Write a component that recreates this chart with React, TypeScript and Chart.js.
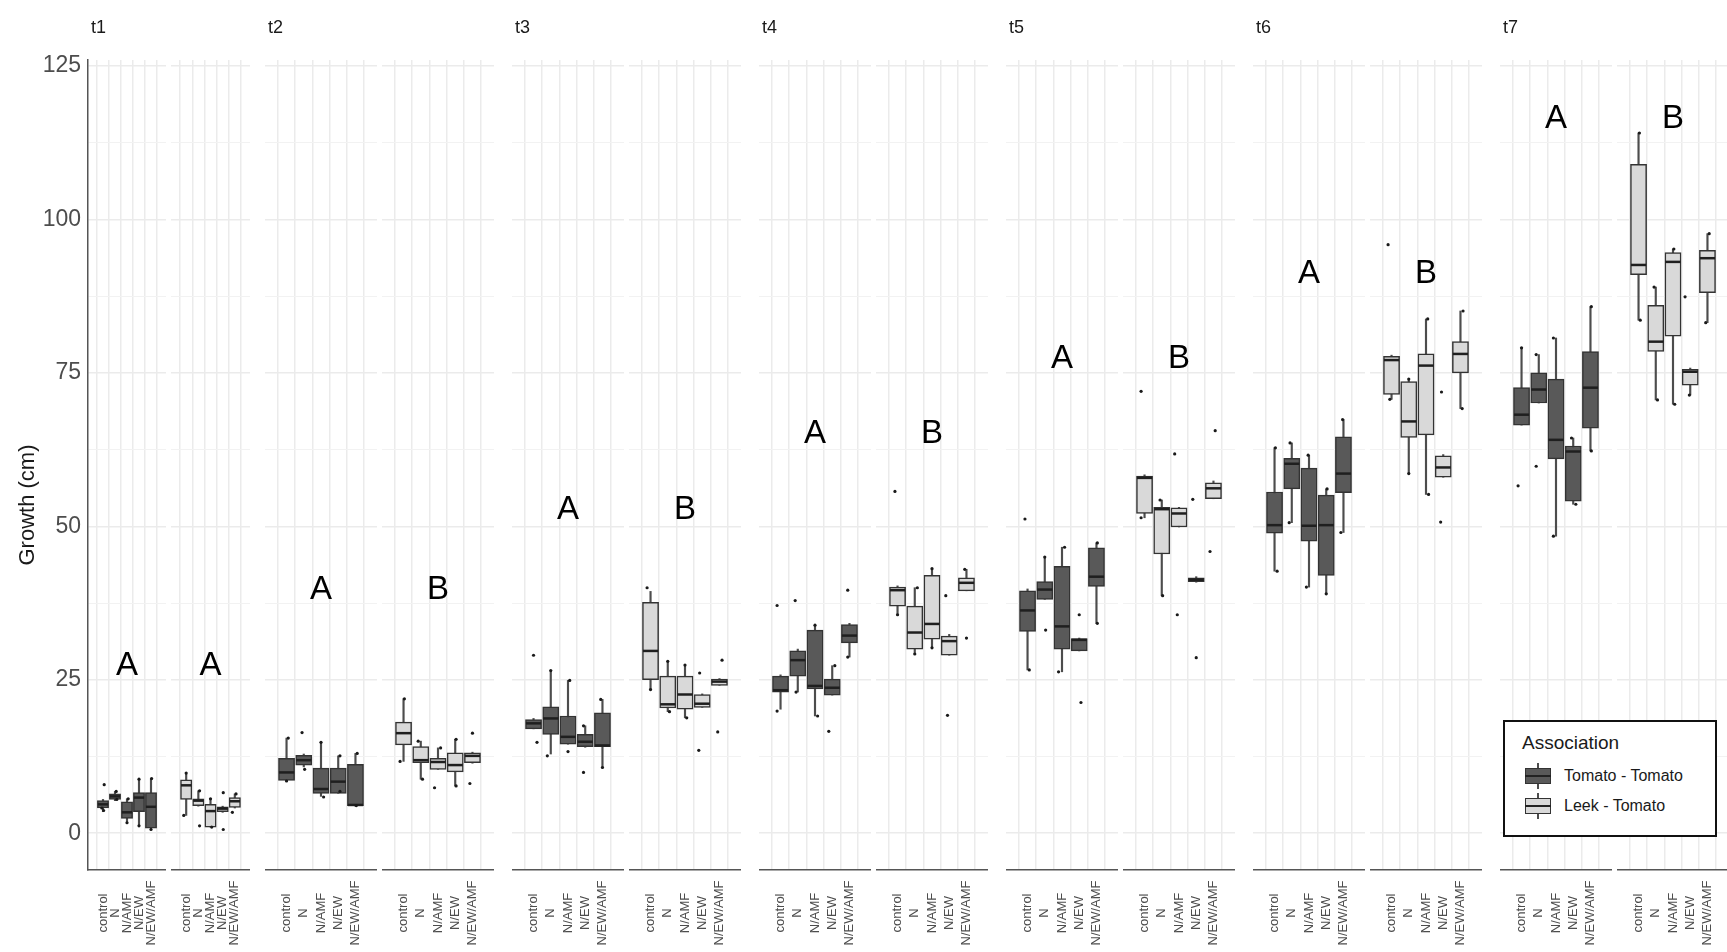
import React, { useEffect, useRef } from 'react';
import { Chart, registerables } from 'chart.js';

Chart.register(...registerables);

// ---------------- data ----------------
const timepoints = ['t1', 't2', 't3', 't4', 't5', 't6', 't7'];
const associations = ['Tomato - Tomato', 'Leek - Tomato'];
const treatments = ['control', 'N', 'N/AMF', 'N/EW', 'N/EW/AMF'];
const yTicks = [0, 25, 50, 75, 100, 125];
const yMinorTicks = [12.5, 37.5, 62.5, 87.5, 112.5];

// rows: t1 TT, t1 LT, t2 TT, t2 LT, ... t7 TT, t7 LT ; columns: treatments
const whiskerLow = [
  [3.5, 5.3, 1.7, 1.2, 0.6], [2.9, 4.4, 1.0, 3.4, 4.1],
  [8.4, 10.8, 6.0, 6.5, 4.4], [11.7, 8.8, 10.4, 7.7, 11.4],
  [17.0, 12.9, 14.5, 14.0, 10.7], [23.4, 19.8, 18.8, 20.5, 24.1],
  [20.2, 23.0, 19.1, 22.5, 28.7], [35.6, 29.2, 30.2, 29.0, 39.5],
  [26.6, 38.1, 26.3, 29.7, 34.2], [51.4, 38.7, 49.9, 40.9, 54.5],
  [42.7, 50.6, 40.1, 39.0, 49.0], [70.7, 58.6, 55.2, 58.0, 69.2],
  [66.5, 70.1, 48.4, 53.6, 62.3], [83.6, 70.6, 69.9, 71.4, 83.2],
];
const lowerQuartile = [
  [4.1, 5.5, 2.4, 3.5, 0.8], [5.5, 4.5, 1.0, 3.5, 4.2],
  [8.6, 11.1, 6.5, 6.5, 4.5], [14.4, 11.5, 10.4, 10.0, 11.5],
  [17.0, 16.1, 14.5, 14.1, 14.1], [25.0, 20.4, 20.2, 20.5, 24.1],
  [23.0, 25.6, 23.5, 22.5, 31.0], [37.0, 30.0, 31.6, 29.0, 39.5],
  [32.9, 38.1, 30.0, 29.7, 40.2], [52.1, 45.5, 49.9, 41.0, 54.5],
  [48.9, 56.1, 47.6, 42.0, 55.5], [71.5, 64.5, 64.9, 58.0, 75.0],
  [66.5, 70.1, 61.0, 54.1, 66.0], [91.0, 78.5, 81.0, 73.0, 88.1],
];
const medianValue = [
  [4.7, 6.0, 3.4, 5.8, 4.3], [7.8, 5.3, 3.6, 4.0, 5.2],
  [9.9, 11.9, 7.2, 8.4, 4.6], [16.3, 11.9, 11.6, 11.1, 12.6],
  [17.9, 18.7, 15.7, 14.9, 14.3], [29.7, 21.0, 22.6, 21.1, 24.7],
  [23.3, 28.2, 24.0, 23.7, 32.2], [39.6, 32.7, 34.1, 31.3, 40.8],
  [36.3, 39.7, 33.7, 31.5, 41.8], [57.9, 52.8, 52.1, 41.3, 56.2],
  [50.2, 60.2, 50.1, 50.2, 58.6], [77.1, 67.1, 76.2, 59.6, 78.1],
  [68.2, 72.3, 64.1, 62.2, 72.6], [92.6, 80.1, 93.1, 75.2, 93.7],
];
const upperQuartile = [
  [5.3, 6.4, 5.1, 6.6, 6.6], [8.7, 5.6, 4.7, 4.3, 5.8],
  [12.2, 12.7, 10.6, 10.6, 11.2], [18.1, 14.1, 12.2, 13.1, 13.1],
  [18.5, 20.6, 19.1, 16.1, 19.6], [37.6, 25.6, 25.6, 22.6, 25.1],
  [25.6, 29.7, 33.1, 25.1, 34.0], [40.1, 37.0, 42.0, 32.1, 41.6],
  [39.5, 41.0, 43.5, 31.7, 46.5], [58.2, 53.1, 53.0, 41.6, 57.1],
  [55.6, 61.1, 59.5, 55.1, 64.6], [77.7, 73.6, 78.1, 61.5, 80.1],
  [72.6, 75.0, 74.0, 63.1, 78.5], [109.0, 86.0, 94.6, 75.6, 95.0],
];
const whiskerHigh = [
  [5.5, 6.8, 5.6, 8.8, 8.9], [9.6, 6.9, 5.6, 4.4, 6.4],
  [15.5, 12.9, 14.8, 12.6, 13.0], [21.9, 15.0, 13.9, 15.3, 13.2],
  [18.7, 26.5, 24.9, 17.5, 21.8], [39.4, 28.0, 27.4, 22.7, 25.2],
  [25.8, 30.0, 33.9, 27.3, 34.2], [40.3, 40.0, 43.1, 32.4, 43.0],
  [39.8, 45.0, 46.6, 31.8, 47.3], [58.4, 54.3, 53.1, 41.8, 57.4],
  [62.8, 63.6, 61.6, 56.1, 67.4], [77.9, 74.0, 83.8, 61.7, 85.1],
  [79.1, 78.0, 80.7, 64.4, 85.8], [114.1, 89.0, 95.2, 75.8, 97.7],
];
// raw observations: [treatment index, growth, horizontal jitter]
const jitterPoints: [number, number, number][][] = [
  [[0, 7.9, 0.1], [0, 3.7, 0.05], [0, 4.1, -0.1], [1, 6.8, 0.1], [1, 5.5, 0.15], [2, 1.7, 0.0], [2, 5.6, 0.1], [3, 8.8, 0.0], [3, 1.2, 0.0], [4, 8.9, 0.05], [4, 0.6, 0.0]],
  [[0, 9.8, 0.0], [0, 2.9, -0.2], [1, 6.9, 0.1], [1, 1.2, 0.1], [2, 1.0, 0.1], [2, 5.6, 0.0], [3, 6.6, 0.05], [3, 0.6, 0.05], [4, 3.4, -0.2], [4, 6.4, 0.1]],
  [[0, 15.5, 0.1], [0, 8.5, 0.0], [1, 16.4, -0.1], [1, 10.4, 0.05], [2, 14.8, 0.0], [2, 5.9, 0.15], [3, 12.6, 0.1], [3, 6.8, 0.1], [4, 13.0, 0.1], [4, 4.5, 0.05]],
  [[0, 21.9, 0.05], [0, 11.7, -0.2], [1, 15.0, -0.15], [1, 8.8, 0.1], [2, 7.4, -0.2], [2, 13.9, 0.15], [3, 15.3, 0.05], [3, 7.7, 0.05], [4, 16.3, 0.0], [4, 8.1, -0.15]],
  [[0, 29.0, 0.0], [0, 14.8, 0.2], [1, 26.5, 0.0], [1, 12.6, -0.2], [2, 24.9, 0.1], [2, 13.3, 0.0], [3, 17.5, -0.1], [3, 9.9, -0.1], [4, 21.8, -0.1], [4, 10.7, 0.0]],
  [[0, 40.0, -0.2], [0, 23.4, 0.0], [1, 28.0, 0.0], [1, 19.8, 0.1], [2, 27.4, 0.0], [2, 18.8, 0.1], [3, 26.1, -0.15], [3, 13.5, -0.2], [4, 28.2, 0.15], [4, 16.5, -0.1]],
  [[0, 37.1, -0.2], [0, 19.9, -0.2], [1, 37.9, -0.15], [1, 23.0, -0.1], [2, 33.9, 0.0], [2, 19.1, 0.15], [3, 27.3, 0.15], [3, 16.6, -0.2], [4, 39.6, -0.1], [4, 28.7, -0.1]],
  [[0, 55.7, -0.15], [0, 35.6, 0.0], [1, 40.0, 0.15], [1, 29.2, 0.0], [2, 43.1, 0.0], [2, 30.2, 0.0], [3, 38.7, -0.2], [3, 19.2, -0.1], [4, 43.0, -0.1], [4, 31.8, 0.0]],
  [[0, 51.2, -0.15], [0, 26.6, 0.1], [1, 45.0, 0.0], [1, 33.1, 0.05], [2, 46.6, 0.15], [2, 26.3, -0.2], [3, 35.6, 0.0], [3, 21.3, 0.1], [4, 47.3, 0.05], [4, 34.2, 0.05]],
  [[0, 72.0, -0.2], [0, 51.4, -0.2], [1, 54.3, -0.1], [1, 38.7, 0.05], [2, 61.8, -0.25], [2, 35.6, -0.1], [3, 54.4, -0.2], [3, 28.6, 0.0], [4, 65.6, 0.1], [4, 45.9, -0.2]],
  [[0, 62.8, 0.05], [0, 42.7, 0.15], [1, 63.6, -0.1], [1, 50.6, -0.15], [2, 61.6, -0.05], [2, 40.1, -0.15], [3, 56.1, 0.05], [3, 39.0, 0.0], [4, 67.4, -0.05], [4, 49.0, -0.15]],
  [[0, 95.9, -0.2], [0, 70.7, -0.1], [1, 74.0, 0.0], [1, 58.6, 0.0], [2, 83.8, 0.1], [2, 55.2, 0.15], [3, 71.9, -0.1], [3, 50.7, -0.15], [4, 85.1, 0.15], [4, 69.2, 0.1]],
  [[0, 79.1, 0.0], [0, 56.6, -0.2], [1, 78.0, -0.15], [1, 59.8, -0.15], [2, 80.7, -0.15], [2, 48.4, -0.15], [3, 64.4, -0.1], [3, 53.6, 0.15], [4, 85.8, 0.05], [4, 62.3, 0.05]],
  [[0, 114.1, 0.05], [0, 83.6, 0.1], [1, 89.0, -0.1], [1, 70.6, 0.1], [2, 95.2, 0.05], [2, 69.9, 0.1], [3, 87.4, -0.3], [3, 71.4, -0.05], [4, 97.7, 0.1], [4, 83.2, -0.1]],
];
const groupLetters = [['A', 'A'], ['A', 'B'], ['A', 'B'], ['A', 'B'], ['A', 'B'], ['A', 'B'], ['A', 'B']];
const letterHeights = [27.3, 39.6, 52.7, 65.1, 77.3, 91.1, 116.4];

// ---------------- layout / style ----------------
const FONT = '"Liberation Sans", Arial, sans-serif';
const PAGE_W = 1727;
const PAGE_H = 952;
const PLOT_TOP = 60;
const PLOT_BOTTOM = 870;
const X_LABEL_CENTER = 913;
const panelLeft = [88, 171, 265, 382, 512, 629, 759, 876, 1006, 1123, 1253, 1370, 1500, 1617];
const panelRight = [166, 250, 377, 494, 624, 741, 871, 988, 1118, 1235, 1365, 1482, 1612, 1729];
const fills = ['#595959', '#d9d9d9'];

function buildConfig(p: number): any {
  const facet = Math.floor(p / 2);
  const grp = p % 2;
  const first = p === 0;
  const pw = panelRight[p] - panelLeft[p];
  const step = pw / 5.2;
  const boxW = step * 0.75;
  const idx = treatments.map((_, i) => i);
  const allY = [...yTicks, ...yMinorTicks].sort((a, b) => a - b);

  const decor = {
    id: 'decor' + p,
    afterDatasetsDraw(chart: any) {
      const { ctx, chartArea, scales } = chart;
      ctx.save();
      // group letters
      ctx.fillStyle = '#000';
      ctx.font = `33px ${FONT}`;
      ctx.textAlign = 'center';
      ctx.textBaseline = 'middle';
      ctx.fillText(
        groupLetters[facet][grp],
        (chartArea.left + chartArea.right) / 2,
        scales.y.getPixelForValue(letterHeights[facet])
      );
      // rotated treatment labels, centred (ggplot angle = 90)
      ctx.font = `13px ${FONT}`;
      ctx.fillStyle = '#4d4d4d';
      treatments.forEach((t, i) => {
        const x = scales.x.getPixelForValue(i);
        ctx.save();
        ctx.translate(x, X_LABEL_CENTER);
        ctx.rotate(-Math.PI / 2);
        ctx.textAlign = 'center';
        ctx.textBaseline = 'middle';
        ctx.fillText(t, 0, 0);
        ctx.restore();
      });
      // strip label
      if (grp === 0) {
        ctx.font = `18px ${FONT}`;
        ctx.fillStyle = '#1a1a1a';
        ctx.textAlign = 'left';
        ctx.fillText(timepoints[facet], chartArea.left + 3, 28);
      }
      // y-axis title
      if (first) {
        ctx.translate(28, 505);
        ctx.rotate(-Math.PI / 2);
        ctx.font = `22px ${FONT}`;
        ctx.fillStyle = '#1a1a1a';
        ctx.textAlign = 'center';
        ctx.fillText('Growth (cm)', 0, 0);
      }
      ctx.restore();
    },
  };

  return {
    type: 'bar',
    data: {
      datasets: [
        {
          type: 'scatter',
          label: 'obs',
          data: jitterPoints[p].map(([b, v, dx]) => ({ x: b + dx, y: v })),
          pointRadius: 1.6,
          pointBackgroundColor: '#1a1a1a',
          pointBorderWidth: 0,
          order: 0,
        },
        {
          type: 'scatter',
          label: 'median',
          data: idx.map((i) => ({ x: i, y: medianValue[p][i] })),
          pointStyle: 'line',
          pointRadius: boxW / 2 - 0.5,
          pointBorderColor: '#1f1f1f',
          pointBorderWidth: 2.5,
          order: 1,
        },
        {
          type: 'bar',
          label: associations[grp],
          data: idx.map((i) => ({ x: i, y: [lowerQuartile[p][i], upperQuartile[p][i]] })),
          backgroundColor: fills[grp],
          borderColor: '#333333',
          borderWidth: 1.5,
          borderSkipped: false,
          barThickness: boxW,
          grouped: false,
          order: 2,
        },
        {
          type: 'bar',
          label: 'whisker',
          data: idx.map((i) => ({ x: i, y: [whiskerLow[p][i], whiskerHigh[p][i]] })),
          backgroundColor: '#4d4d4d',
          borderWidth: 0,
          barThickness: 1.5,
          grouped: false,
          order: 3,
        },
      ],
    },
    options: {
      animation: false,
      responsive: false,
      maintainAspectRatio: false,
      events: [],
      layout: { autoPadding: false, padding: { top: PLOT_TOP, left: 0, right: 0, bottom: 0 } },
      plugins: { legend: { display: false }, tooltip: { enabled: false }, title: { display: false } },
      scales: {
        x: {
          type: 'linear',
          bounds: 'data',
          min: -0.6,
          max: 4.6,
          afterBuildTicks: (s: any) => {
            s.ticks = idx.map((i) => ({ value: i }));
          },
          afterFit: (s: any) => {
            s.height = PAGE_H - PLOT_BOTTOM;
            s.paddingLeft = 0;
            s.paddingRight = 0;
          },
          ticks: {
            display: false,
            callback: (v: number) => treatments[v] ?? '',
          },
          grid: { color: '#ebebeb', lineWidth: 1.5, drawTicks: false },
          border: { display: true, color: '#555555', width: 1.5 },
        },
        y: {
          type: 'linear',
          bounds: 'data',
          min: -6,
          max: 126,
          afterBuildTicks: (s: any) => {
            s.ticks = allY.map((v) => ({ value: v }));
          },
          afterFit: (s: any) => {
            s.width = first ? panelLeft[0] : 0;
            s.paddingTop = 0;
            s.paddingBottom = 0;
          },
          ticks: {
            display: first,
            padding: 7,
            color: '#4d4d4d',
            font: { family: FONT, size: 23 },
            callback: (v: number) => (yTicks.includes(v) ? String(v) : ''),
          },
          grid: {
            color: (c: any) => (c.tick && yTicks.includes(c.tick.value) ? '#ebebeb' : '#f2f2f2'),
            lineWidth: (c: any) => (c.tick && yTicks.includes(c.tick.value) ? 1.5 : 1),
            drawTicks: false,
          },
          border: { display: first, color: '#555555', width: 1.5 },
        },
      },
    },
    plugins: [decor],
  };
}

function Panel({ p }: { p: number }) {
  const ref = useRef<HTMLCanvasElement>(null);
  const left = p === 0 ? 0 : panelLeft[p];
  const width = panelRight[p] - left;
  useEffect(() => {
    if (!ref.current) return;
    const chart = new Chart(ref.current, buildConfig(p));
    return () => chart.destroy();
  }, [p]);
  return (
    <canvas
      ref={ref}
      width={width}
      height={PAGE_H}
      style={{ position: 'absolute', left, top: 0, width, height: PAGE_H }}
    />
  );
}

function KeyGlyph({ fill, cx, cy }: { fill: string; cx: number; cy: number }) {
  return (
    <div style={{ position: 'absolute', left: cx - 14, top: cy - 13, width: 28, height: 26 }}>
      <div style={{ position: 'absolute', left: 13.25, top: 0, width: 1.5, height: 26, background: '#4d4d4d' }} />
      <div
        style={{
          position: 'absolute', left: 1, top: 5, width: 26, height: 16, background: fill,
          border: '1.5px solid #333', boxSizing: 'border-box',
        }}
      />
      <div style={{ position: 'absolute', left: 1, top: 12, width: 26, height: 2, background: '#222' }} />
    </div>
  );
}

function Legend() {
  const rows = [776, 806];
  return (
    <>
      <div
        style={{
          position: 'absolute', left: 1503, top: 720, width: 214, height: 117,
          border: '2px solid #111', background: '#fff', boxSizing: 'border-box',
        }}
      />
      <div
        style={{
          position: 'absolute', left: 1522, top: 731, fontFamily: FONT, fontSize: 19,
          lineHeight: '24px', color: '#1a1a1a', whiteSpace: 'nowrap',
        }}
      >
        Association
      </div>
      {associations.map((a, i) => (
        <React.Fragment key={a}>
          <KeyGlyph fill={fills[i]} cx={1538} cy={rows[i]} />
          <div
            style={{
              position: 'absolute', left: 1564, top: rows[i] - 10, fontFamily: FONT, fontSize: 16,
              lineHeight: '20px', color: '#1a1a1a', whiteSpace: 'nowrap',
            }}
          >
            {a}
          </div>
        </React.Fragment>
      ))}
    </>
  );
}

export default function App() {
  const panels = panelLeft.map((_, i) => i);
  return (
    <div
      style={{
        position: 'fixed', left: 0, top: 0, width: PAGE_W, height: PAGE_H,
        overflow: 'hidden', background: '#fff',
      }}
    >
      {panels.map((p) => (
        <Panel key={p} p={p} />
      ))}
      <Legend />
    </div>
  );
}
